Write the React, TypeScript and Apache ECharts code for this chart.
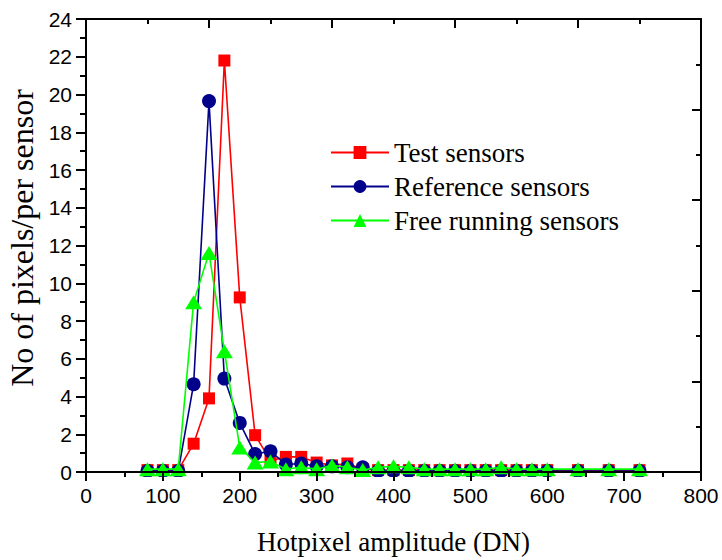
import React, { useEffect, useRef } from "react";
import * as echarts from "echarts";

const amplitudes = [80, 100, 120, 140, 160, 180, 200, 220, 240, 260, 280, 300, 320, 340, 360, 380, 400, 420, 440, 460, 480, 500, 520, 540, 560, 580, 600, 640, 680, 720];
const testSensors = [0.1, 0.1, 0.1, 1.5, 3.9, 21.8, 9.25, 1.95, 0.6, 0.8, 0.8, 0.5, 0.35, 0.45, 0.15, 0.1, 0.1, 0.1, 0.1, 0.1, 0.1, 0.1, 0.1, 0.1, 0.1, 0.1, 0.1, 0.1, 0.1, 0.1];
const referenceSensors = [0.05, 0.05, 0.05, 4.65, 19.65, 4.95, 2.6, 0.95, 1.1, 0.4, 0.45, 0.3, 0.3, 0.25, 0.25, 0.05, 0.05, 0.05, 0.05, 0.05, 0.05, 0.05, 0.05, 0.05, 0.05, 0.05, 0.05, 0.05, 0.05, 0.05];
const freeRunningSensors = [0.15, 0.15, 0.15, 9.0, 11.6, 6.4, 1.3, 0.5, 0.55, 0.15, 0.25, 0.15, 0.35, 0.25, 0.1, 0.25, 0.3, 0.25, 0.15, 0.15, 0.15, 0.15, 0.15, 0.25, 0.15, 0.15, 0.15, 0.15, 0.15, 0.15];

const seriesNames = ["Test sensors", "Reference sensors", "Free running sensors"];
const xTitle = "Hotpixel amplitude (DN)";
const yTitle = "No of pixels/per sensor";

const pairs = (ys: number[]) => amplitudes.map((x, i) => [x, ys[i]]);

export default function App() {
  const ref = useRef<HTMLDivElement>(null);
  useEffect(() => {
    if (!ref.current) return;
    const chart = echarts.init(ref.current, undefined, { renderer: "svg" });
    const black = "#000";
    const tickFont = { fontFamily: "Liberation Sans", fontSize: 21, color: black };
    chart.setOption({
      animation: false,
      backgroundColor: "#fff",
      grid: { left: 86, top: 19, right: 21, bottom: 84, containLabel: false },
      legend: {
        orient: "vertical",
        left: 330,
        top: 139,
        padding: 0,
        itemWidth: 58,
        itemHeight: 16,
        itemGap: 7,
        textStyle: { fontFamily: "Liberation Serif", fontSize: 27, color: black, lineHeight: 27 },
        data: seriesNames,
      },
      xAxis: [
        {
          type: "value",
          position: "bottom",
          min: 0,
          max: 800,
          interval: 100,
          z: 10,
          axisLine: { show: true, onZero: false, lineStyle: { color: black, width: 2 } },
          axisTick: { show: true, inside: false, length: 9, lineStyle: { color: black, width: 2 } },
          minorTick: { show: true, splitNumber: 2, length: 5, lineStyle: { color: black, width: 2 } },
          splitLine: { show: false },
          axisLabel: { ...tickFont, margin: 13 },
          name: xTitle,
          nameLocation: "middle",
          nameGap: 56,
          nameTextStyle: { fontFamily: "Liberation Serif", fontSize: 27, color: black },
        },
        {
          type: "value",
          position: "top",
          min: 0,
          max: 800,
          interval: 160,
          z: 10,
          axisLine: { show: true, onZero: false, lineStyle: { color: black, width: 2 } },
          axisTick: { show: true, inside: true, length: 9, lineStyle: { color: black, width: 2 } },
          minorTick: { show: true, splitNumber: 2, length: 5, lineStyle: { color: black, width: 2 } },
          splitLine: { show: false },
          axisLabel: { show: false },
        },
      ],
      yAxis: [
        {
          type: "value",
          position: "left",
          min: 0,
          max: 24,
          interval: 2,
          z: 10,
          axisLine: { show: true, onZero: false, lineStyle: { color: black, width: 2 } },
          axisTick: { show: true, inside: false, length: 10, lineStyle: { color: black, width: 2 } },
          minorTick: { show: true, splitNumber: 2, length: 6, lineStyle: { color: black, width: 2 } },
          splitLine: { show: false },
          axisLabel: { ...tickFont, margin: 14 },
        },
        {
          type: "value",
          position: "right",
          min: 0,
          max: 24,
          interval: 4.8,
          z: 10,
          axisLine: { show: true, onZero: false, lineStyle: { color: black, width: 2 } },
          axisTick: { show: true, inside: true, length: 9, lineStyle: { color: black, width: 2 } },
          minorTick: { show: true, splitNumber: 2, length: 5, lineStyle: { color: black, width: 2 } },
          splitLine: { show: false },
          axisLabel: { show: false },
        },
      ],
      graphic: [
        {
          type: "rect",
          z: 5,
          shape: { x: 87, y: 477, width: 613, height: 14 },
          style: { fill: "#fff" },
          silent: true,
        },
        {
          type: "text",
          z: 10,
          x: 22,
          y: 238,
          rotation: Math.PI / 2,
          style: {
            text: yTitle,
            fontFamily: "Liberation Serif",
            fontSize: 32,
            fill: black,
            align: "center",
            verticalAlign: "middle",
          },
        },
      ],
      series: [
        {
          name: seriesNames[0],
          type: "line",
          xAxisIndex: 0,
          yAxisIndex: 0,
          data: pairs(testSensors),
          symbol: "rect",
          symbolSize: 12,
          color: "#ff0000",
          lineStyle: { color: "#ff0000", width: 1.6 },
          itemStyle: { color: "#ff0000" },
          clip: false,
          z: 2,
        },
        {
          name: seriesNames[1],
          type: "line",
          xAxisIndex: 0,
          yAxisIndex: 0,
          data: pairs(referenceSensors),
          symbol: "circle",
          symbolSize: 14,
          color: "#00008b",
          lineStyle: { color: "#00008b", width: 1.6 },
          itemStyle: { color: "#00008b" },
          clip: false,
          z: 3,
        },
        {
          name: seriesNames[2],
          type: "line",
          xAxisIndex: 0,
          yAxisIndex: 0,
          data: pairs(freeRunningSensors),
          symbol: "triangle",
          symbolSize: [17, 14],
          color: "#00ff00",
          lineStyle: { color: "#00ff00", width: 1.6 },
          itemStyle: { color: "#00ff00" },
          clip: false,
          z: 4,
        },
      ],
    });
    return () => chart.dispose();
  }, []);
  return (
    <div
      ref={ref}
      style={{ position: "fixed", left: 0, top: 0, width: 722, height: 560, background: "#fff" }}
    />
  );
}
